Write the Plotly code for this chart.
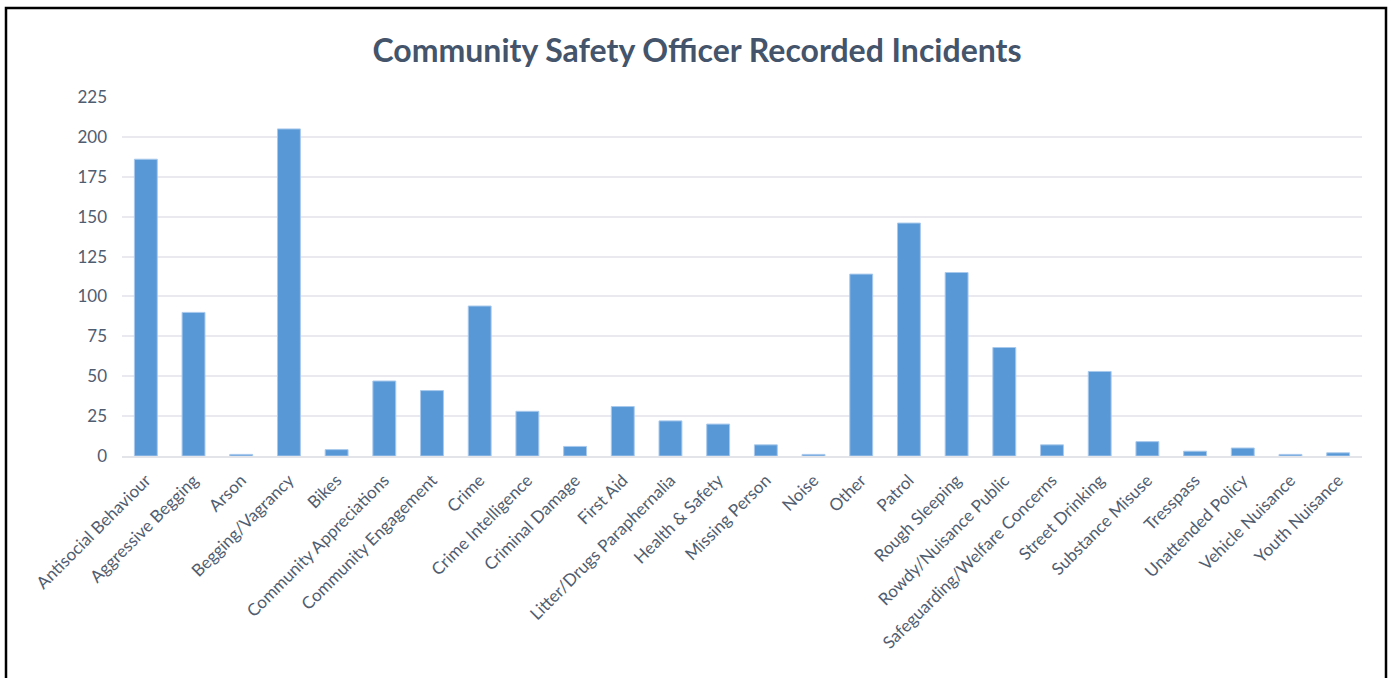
import plotly.graph_objects as go

categories = [
    "Antisocial Behaviour", "Aggressive Begging", "Arson", "Begging/Vagrancy", "Bikes",
    "Community Appreciations", "Community Engagement", "Crime", "Crime Intelligence",
    "Criminal Damage", "First Aid", "Litter/Drugs Paraphernalia", "Health & Safety",
    "Missing Person", "Noise", "Other", "Patrol", "Rough Sleeping", "Rowdy/Nuisance Public",
    "Safeguarding/Welfare Concerns", "Street Drinking", "Substance Misuse", "Tresspass",
    "Unattended Policy", "Vehicle Nuisance", "Youth Nuisance",
]
incidents = [186, 90, 1, 205, 4, 47, 41, 94, 28, 6, 31, 22, 20, 7, 1, 114, 146, 115, 68, 7, 53, 9, 3, 5, 1, 2]
y_ticks = [0, 25, 50, 75, 100, 125, 150, 175, 200, 225]

W, H = 1392, 678
L, R, T, B = 122, 30, 97, 222

fig = go.Figure(go.Bar(
    x=categories, y=incidents,
    marker=dict(color="#5898d6", line=dict(color="#a9c9ec", width=1)),
    width=0.48,
))

pw = W - L - R
ph = H - T - B
fig.add_shape(type="rect", xref="paper", yref="paper",
              x0=(6 - L) / pw, x1=(1386 - L) / pw,
              y0=(H - B - 700) / ph, y1=(H - B - 8) / ph,
              line=dict(color="black", width=2.5), fillcolor="rgba(0,0,0,0)", layer="above")

fig.update_layout(
    width=W, height=H,
    margin=dict(l=L, r=R, t=T, b=B),
    paper_bgcolor="white", plot_bgcolor="white",
    font=dict(family="Lato, Open Sans, sans-serif", color="#505d70"),
    title=dict(text="<b>Community Safety Officer Recorded Incidents</b>",
               x=697 / W, xanchor="center", xref="container", y=1 - 51 / H, yanchor="middle",
               font=dict(size=32, color="#44546a", family="Lato, Open Sans, sans-serif")),
    showlegend=False,
    bargap=0.52,
)
fig.update_yaxes(range=[0, 225], tickvals=y_ticks, gridcolor="#e9e9ef", gridwidth=1.5,
                 zeroline=False, showline=False, tickfont=dict(size=17, color="#505d70"),
                 ticks="", ticklabelstandoff=14)
fig.update_xaxes(tickangle=-45, tickfont=dict(size=17, color="#505d70"), showline=True,
                 linecolor="#e3e3ea", linewidth=1.5, ticks="", showgrid=False,
                 ticklabelstandoff=6)

fig.write_html("out.html", post_script="document.body.style.margin='0';",
               config={"displayModeBar": False})
